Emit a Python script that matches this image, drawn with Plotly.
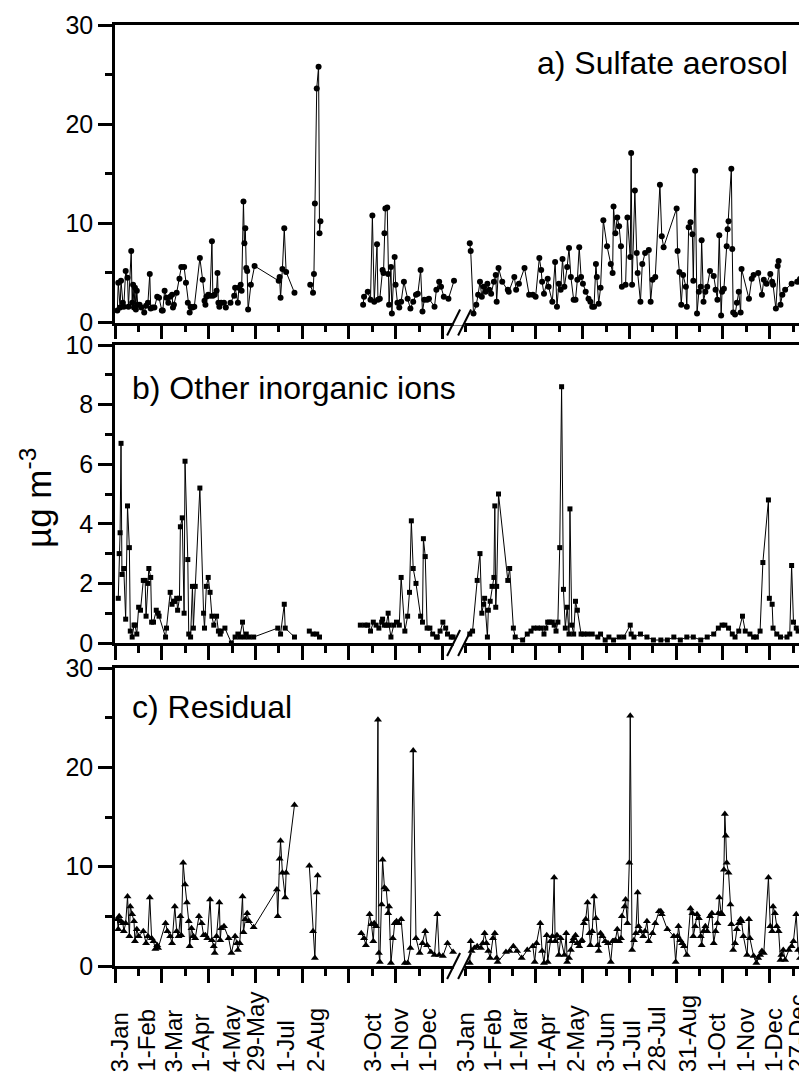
import plotly.graph_objects as go

# ---------------- data ----------------
# Day numbers count from 1 January of the first year (1 January of the second year = 366).
# None marks a gap in the record.
YEAR_LEN = 365

sulf_day = [1, 2, 4, 5, 7, 8, 10, 12, 13, 16,
            17, 18, 19, 20, 21, 22, 23, 25, 27, 30,
            32, 34, 36, 37, 39, 41, 44, 46, 49, 50,
            52, 54, 56, 58, 60, 61, 62, 65, 68, 70,
            73, 75, 77, 79, 80, 82, 84, 90, 93, 95,
            96, 97, 99, 101, 103, 104, 106, 108, 109, 110,
            111, 113, 116, 118, 123, 127, 128, 131, 132, 134,
            135, 137, 138, 139, 140, 141, 142, 145, 149, 175,
            176, 177, 179, 181, 183, 192, None,
            209, 212, 213, 214, 216, 218, 219, 220, None,
            266, 267, 271, 274, 276, 278, 281, 282, 284, 287,
            288, 289, 290, 292, 293, 294, 296, 297, 300, 301,
            303, 305, 307, 310, 314, 317, 320, 323, 325, 328,
            330, 332, 335, 337, 343, 345, 348, 350, 353, 358, 364, None,
            373, 374, 377, 380, 382, 384, 386, 388, 390, 392,
            394, 396, 399, 401, 402, 404, 408, 414, 415, 421,
            423, 426, 432, 437, 441, 444, 448, 450, 451, 453,
            457, 458, 462, 465, 467, 469, 471, 473, 475, 478,
            480, 482, 485, 487, 489, 491, 493, 495, 498, 501,
            503, 505, 507, 509, 510, 512, 514, 517, 521, 525,
            527, 528, 530, 532, 534, 536, 537, 541, 543, 546,
            547, 548, 551, 553, 554, 557, 559, 562, 566, 568,
            570, 573, 578, 580, 582, 596, 597, 599, 601, 603,
            606, 607, 609, 611, 613, 614, 616, 618, 620, 622,
            623, 625, 627, 629, 632, 636, 638, 640, 642, 644,
            645, 647, 650, 651, 652, 655, 656, 657, 659, 661,
            663, 665, 666, 674, 677, 679, 684, 688, 690, 693,
            697, 699, 700, 703, 705, 706, 708, 710, 713, 720,
            726, 729, 733, 736]
sulf_val = [1.2, 4.0, 1.5, 4.2, 2.0, 1.6, 5.2, 4.5, 1.6, 7.2,
            2.0, 3.8, 1.5, 3.5, 1.3, 3.2, 1.8, 1.8, 1.5, 1.0,
            1.7, 2.0, 4.9, 1.4, 1.5, 1.5, 2.6, 2.5, 1.2, 1.2,
            3.2, 2.5, 2.0, 2.6, 2.8, 1.5, 1.8, 3.0, 4.4, 5.6,
            5.6, 4.0, 2.0, 1.0, 1.6, 1.5, 1.6, 6.5, 4.3, 2.2,
            1.8, 2.6, 2.8, 2.7, 8.2, 2.7, 2.8, 3.2, 5.0, 2.0,
            1.6, 2.0, 2.0, 1.5, 2.0, 2.7, 3.5, 2.0, 3.5, 3.8,
            3.2, 12.2, 8.0, 9.5, 5.5, 5.2, 1.3, 3.8, 5.7, 4.2,
            4.6, 2.5, 5.4, 9.5, 5.1, 3.0, None,
            3.8, 3.0, 4.9, 12.0, 23.6, 25.8, 9.0, 10.2, None,
            1.8, 2.6, 3.1, 2.3, 10.8, 2.1, 7.9, 2.3, 2.4, 5.3,
            5.0, 9.0, 11.5, 11.6, 4.9, 1.8, 5.6, 0.9, 6.6, 3.8,
            2.0, 1.5, 2.1, 4.1, 2.4, 1.4, 2.1, 2.8, 2.9, 5.3,
            1.1, 2.3, 2.3, 2.4, 1.6, 3.3, 4.1, 3.6, 2.6, 2.4, 4.2, None,
            8.0, 7.2, 0.9, 1.8, 2.8, 4.1, 2.6, 3.6, 3.1, 3.9,
            3.3, 2.9, 4.1, 4.8, 2.1, 5.5, 4.1, 3.3, 3.1, 4.6,
            3.3, 3.9, 5.5, 2.8, 2.8, 2.6, 6.5, 5.3, 4.1, 2.9,
            4.4, 3.6, 2.1, 6.1, 1.6, 3.9, 3.3, 6.4, 3.6, 5.6,
            7.5, 4.6, 2.3, 2.3, 4.3, 7.6, 4.6, 3.9, 3.1, 2.4,
            2.1, 1.6, 1.6, 5.9, 4.6, 1.9, 3.5, 10.3, 7.7, 5.9,
            5.0, 11.7, 9.0, 10.6, 9.7, 7.7, 3.6, 3.8, 10.6, 6.6,
            17.1, 3.8, 13.3, 7.0, 5.0, 2.1, 5.9, 7.0, 7.3, 2.1,
            4.3, 4.6, 13.9, 8.7, 7.6, 11.5, 7.2, 5.1, 1.8, 4.8,
            3.6, 1.6, 9.6, 10.1, 8.9, 4.2, 15.3, 0.9, 3.1, 3.6,
            8.3, 2.1, 3.1, 3.6, 5.2, 4.7, 3.3, 2.3, 8.8, 0.7,
            3.1, 3.4, 7.7, 9.4, 10.2, 15.5, 7.4, 1.0, 0.8, 2.0,
            3.1, 1.0, 5.4, 2.4, 4.4, 4.8, 5.0, 2.8, 4.3, 3.9,
            4.9, 4.1, 3.8, 1.4, 5.7, 6.2, 1.8, 2.8, 3.3, 3.9,
            4.1, 4.4, 2.3, 3.0]

ions_day = [2, 3, 4, 5, 6, 8, 10, 12, 14, 15,
            17, 19, 20, 22, 24, 26, 29, 31, 32, 34,
            35, 37, 38, 40, 43, 45, 46, 53, 54, 58,
            60, 62, 63, 65, 66, 68, 69, 71, 73, 74,
            77, 78, 80, 82, 83, 85, 90, 94, 95, 97,
            99, 101, 103, 105, 108, 110, 112, 113, 117, 124,
            128, 131, 133, 136, 138, 140, 143, 148, 174, 177,
            181, 182, 192, None,
            208, 212, 216, 219, None,
            263, 268, 271, 274, 277, 280, 283, 286, 287, 289,
            291, 293, 294, 296, 299, 302, 305, 307, 311, 314,
            316, 318, 320, 323, 328, 330, 331, 333, 335, 338,
            341, 345, 346, 349, 352, 355, 357, 361, 363, None,
            373, 376, 381, 384, 386, 388, 389, 392, 393, 395,
            397, 399, 400, 401, 402, 404, 414, 416, 420, 422,
            430, 435, 439, 442, 446, 450, 453, 455, 457, 459,
            462, 464, 466, 468, 470, 472, 474, 476, 478, 480,
            481, 483, 485, 487, 489, 493, 496, 500, 505, 511,
            514, 519, 523, 528, 534, 539, 546, 547, 550, 557,
            564, 571, 579, 586, 593, 600, 607, 614, 622, 629,
            636, 641, 645, 648, 652, 656, 659, 663, 667, 670,
            675, 679, 682, 686, 689, 695, 696, 699, 700, 704,
            708, 715, 718, 720, 722, 725, 727, 731, 735]
ions_val = [1.5, 3.0, 3.7, 6.7, 2.3, 2.5, 0.8, 4.6, 3.2, 0.4,
            0.2, 0.6, 0.6, 0.3, 1.2, 1.1, 2.1, 2.1, 0.9, 2.0,
            2.5, 2.2, 0.7, 0.7, 1.1, 1.0, 0.9, 0.2, 0.5, 1.7,
            1.3, 1.4, 1.4, 1.5, 1.1, 1.5, 3.9, 4.2, 1.0, 6.1,
            2.8, 0.3, 0.2, 1.9, 0.5, 1.9, 5.2, 1.0, 0.5, 1.9,
            2.2, 1.7, 0.9, 0.6, 0.9, 0.4, 0.3, 0.4, 0.5, 0.0,
            0.2, 0.3, 0.2, 0.7, 0.2, 0.3, 0.2, 0.2, 0.5, 0.3,
            1.3, 0.5, 0.2, None,
            0.4, 0.3, 0.3, 0.2, None,
            0.6, 0.6, 0.6, 0.4, 0.7, 0.6, 0.5, 0.7, 0.8, 0.6,
            0.6, 1.0, 0.6, 0.2, 0.6, 0.7, 0.6, 2.2, 0.4, 0.9,
            1.7, 4.1, 2.5, 2.0, 0.9, 0.7, 3.5, 2.9, 0.5, 0.5,
            0.3, 0.2, 0.2, 0.4, 0.7, 0.5, 0.3, 0.2, 0.2, None,
            0.3, 0.4, 2.1, 3.0, 1.0, 1.3, 1.5, 0.2, 1.1, 1.4,
            1.9, 2.2, 4.6, 1.2, 1.9, 5.0, 2.1, 2.5, 0.5, 0.2,
            0.1, 0.3, 0.4, 0.5, 0.5, 0.5, 0.3, 0.5, 0.7, 0.7,
            0.7, 0.6, 0.4, 0.7, 3.2, 8.6, 1.8, 0.5, 1.2, 0.3,
            4.5, 0.6, 0.3, 1.4, 1.1, 0.3, 0.3, 0.3, 0.3, 0.2,
            0.3, 0.1, 0.2, 0.1, 0.2, 0.2, 0.6, 0.3, 0.2, 0.3,
            0.2, 0.1, 0.1, 0.1, 0.2, 0.1, 0.2, 0.2, 0.1, 0.2,
            0.3, 0.5, 0.6, 0.6, 0.5, 0.3, 0.2, 0.4, 0.9, 0.4,
            0.3, 0.2, 0.2, 0.4, 2.7, 4.8, 1.5, 1.3, 0.5, 0.3,
            0.2, 0.2, 0.3, 2.6, 0.7, 0.5, 0.4, 0.3, 0.3]

resid_day = [1, 2, 3, 5, 7, 8, 10, 12, 14, 15,
             17, 19, 20, 22, 24, 29, 32, 34, 36, 38,
             40, 42, 44, 45, 53, 55, 58, 60, 63, 65,
             67, 69, 70, 72, 74, 76, 78, 79, 81, 83,
             85, 89, 92, 94, 96, 98, 101, 103, 105, 106,
             108, 111, 112, 113, 116, 121, 124, 128, 130, 131,
             133, 136, 137, 139, 141, 143, 148, 173, 174, 176,
             177, 179, 182, 183, 192, None,
             208, 212, 214, 216, 217, None,
             264, 267, 269, 273, 275, 277, 278, 280, 282, 283,
             284, 286, 287, 289, 291, 293, 294, 296, 298, 300,
             302, 304, 307, 311, 314, 317, 320, 323, 327, 330,
             333, 335, 339, 343, 346, 348, 352, 357, 363, None,
             373, 374, 375, 378, 381, 385, 387, 389, 391, 393,
             395, 398, 400, 402, 403, 412, 416, 420, 424, 429,
             435, 441, 443, 445, 449, 451, 453, 456, 457, 460,
             462, 464, 465, 467, 469, 471, 475, 477, 478, 480,
             482, 484, 485, 487, 489, 491, 493, 494, 496, 498,
             500, 502, 503, 505, 507, 509, 511, 512, 514, 516,
             519, 522, 525, 527, 528, 530, 532, 534, 536, 537,
             540, 541, 543, 545, 546, 548, 550, 552, 554, 555,
             557, 560, 562, 564, 566, 570, 573, 577, 579, 580,
             586, 593, 595, 597, 598, 600, 602, 604, 607, 611,
             613, 614, 616, 618, 620, 622, 623, 625, 627, 629,
             632, 634, 636, 638, 640, 641, 642, 644, 645, 647,
             648, 649, 650, 652, 654, 655, 657, 659, 661, 663,
             665, 666, 668, 672, 674, 675, 679, 682, 684, 686,
             688, 690, 695, 697, 699, 700, 702, 704, 706, 708,
             709, 711, 713, 717, 720, 722, 725, 727, 729, 733,
             735]
resid_val = [4.7, 3.7, 5.0, 4.5, 4.3, 3.5, 4.3, 7.0, 3.0, 6.0,
             5.2, 4.5, 2.5, 3.7, 3.0, 3.5, 2.3, 3.0, 6.9, 2.8,
             2.5, 1.7, 2.1, 1.8, 4.3, 3.5, 3.0, 2.3, 6.0, 3.5,
             3.0, 5.0, 3.1, 10.4, 8.2, 6.4, 4.5, 2.0, 3.8, 3.0,
             2.8, 5.0, 4.3, 3.1, 3.1, 2.8, 6.7, 2.6, 2.0, 1.3,
             3.0, 6.4, 2.6, 3.8, 4.0, 2.8, 1.3, 3.0, 2.3, 1.6,
             2.3, 7.0, 3.4, 4.7, 5.3, 4.5, 3.9, 7.7, 5.0, 10.8,
             12.6, 9.4, 6.9, 9.4, 16.2, None,
             10.1, 3.5, 0.8, 7.4, 9.1, None,
             3.3, 2.8, 2.1, 5.2, 4.2, 2.5, 4.3, 4.0, 24.8, 1.3,
             0.4, 6.2, 10.7, 7.9, 7.7, 5.3, 6.0, 0.3, 2.8, 4.3,
             4.5, 4.3, 4.7, 0.3, 0.3, 1.8, 21.7, 2.8, 1.3, 2.3,
             3.5, 2.1, 1.4, 1.1, 5.2, 1.1, 1.0, 2.3, 1.4, None,
             0.3, 2.5, 1.5, 1.8, 2.0, 1.8, 2.3, 3.3, 2.3, 1.5,
             0.8, 2.8, 3.3, 0.8, 0.4, 1.4, 1.5, 2.0, 1.5, 0.8,
             1.6, 2.0, 0.4, 2.3, 4.3, 1.5, 0.3, 3.1, 0.4, 2.5,
             3.0, 8.9, 2.5, 3.1, 1.1, 2.8, 1.1, 3.3, 0.4, 0.8,
             1.6, 2.5, 2.8, 3.1, 2.3, 2.0, 2.5, 2.6, 4.3, 4.7,
             6.4, 3.3, 2.1, 3.5, 7.0, 4.8, 2.1, 1.5, 3.3, 3.0,
             2.5, 2.3, 0.4, 2.5, 2.5, 2.6, 3.7, 2.5, 2.8, 5.0,
             6.0, 6.7, 4.3, 10.4, 25.2, 1.6, 2.6, 3.3, 7.4, 4.0,
             3.5, 3.0, 3.5, 4.5, 2.5, 3.3, 4.3, 5.5, 5.5, 5.2,
             3.7, 3.0, 0.4, 3.0, 4.0, 2.6, 2.3, 2.0, 1.1, 5.8,
             5.3, 3.0, 4.0, 5.2, 4.8, 3.0, 2.1, 3.5, 4.0, 3.5,
             5.0, 5.3, 2.3, 3.5, 4.3, 5.3, 6.9, 5.3, 5.2, 9.7,
             15.3, 13.1, 10.4, 9.4, 6.2, 4.2, 1.6, 2.3, 3.7, 4.3,
             4.7, 4.5, 3.0, 1.1, 4.7, 2.8, 1.0, 0.3, 0.8, 1.1,
             1.5, 1.3, 8.9, 4.0, 3.5, 6.0, 5.3, 4.0, 3.5, 0.6,
             1.1, 1.6, 0.6, 1.6, 2.0, 2.5, 5.2, 1.6, 0.8, 0.6,
             1.0]

# date labels on the time axis (same day numbering)
label_day = [3, 32, 62, 91, 124, 149, 182, 214, 276, 305, 335,
             368, 397, 425, 456, 487, 519, 547, 574, 608, 639, 670, 700, 726]
label_text = ['3-Jan', '1-Feb', '3-Mar', '1-Apr', '4-May', '29-May', '1-Jul', '2-Aug',
              '3-Oct', '1-Nov', '1-Dec',
              '3-Jan', '1-Feb', '1-Mar', '1-Apr', '2-May', '3-Jun', '1-Jul', '28-Jul',
              '31-Aug', '1-Oct', '1-Nov', '1-Dec', '27-Dec']

panel_titles = ['a) Sulfate aerosol', 'b) Other inorganic ions', 'c) Residual']
y_ranges = [[0, 30], [0, 10], [0, 30]]
y_dticks = [10, 2, 10]
y_title = 'µg m<sup>-3</sup>'

# ---------------- layout constants ----------------
# The page places the figure 8 px from the top-left corner (default body margin),
# so the figure is 8 px smaller than the window and margins are measured accordingly.
OFF = 8
W, H = 807 - OFF, 1076 - OFF
PLOT_L, PLOT_R, PLOT_T, PLOT_B = 115, 806, 25, 966      # window pixels
ML, MT = PLOT_L - OFF, PLOT_T - OFF
MR, MB = W - (PLOT_R - OFF), H - (PLOT_B - OFF)
PW, PH = PLOT_R - PLOT_L, PLOT_B - PLOT_T
BREAK_GAP = 8            # extra axis space inserted at the axis break
XMIN, XMAX = -1.5, 743.5
TICK0, TICK_STEP = -1.3, 25.2
FONT = 'Liberation Sans, Arial, Helvetica, sans-serif'

# panel vertical positions (window pixels from top)
panel_px = [(25, 322.5), (345, 643), (668, 966)]
domains = [[(PLOT_B - b) / PH, (PLOT_B - t) / PH] for t, b in panel_px]
domains[0][1] = 1.0
domains[2][0] = 0.0


def plot_x(days):
    return [None if d is None else (d + BREAK_GAP if d > YEAR_LEN else d) for d in days]


fig = go.Figure()
series = [(sulf_day, sulf_val, 'circle', 6),
          (ions_day, ions_val, 'square', 5),
          (resid_day, resid_val, 'triangle-up', 7)]
for i, (d, v, sym, sz) in enumerate(series):
    sfx = '' if i == 0 else str(i + 1)
    fig.add_trace(go.Scatter(
        x=plot_x(d), y=v, mode='lines+markers', connectgaps=False,
        line=dict(color='black', width=1),
        marker=dict(symbol=sym, size=sz, color='black'),
        xaxis='x' + sfx, yaxis='y' + sfx, showlegend=False))

layout = dict(width=W, height=H, margin=dict(l=ML, r=MR, t=MT, b=MB, autoexpand=False),
              paper_bgcolor='white', plot_bgcolor='white',
              font=dict(family=FONT, color='black'))
for i in range(3):
    sfx = '' if i == 0 else str(i + 1)
    layout['xaxis' + sfx] = dict(
        domain=[0, 1], range=[XMIN, XMAX], anchor='y' + sfx,
        showline=True, linecolor='black', linewidth=2.5, mirror=True,
        ticks='outside', ticklen=14, tickwidth=2.5, tickcolor='black',
        tick0=TICK0, dtick=2 * TICK_STEP, showticklabels=False,
        showgrid=False, zeroline=False,
        minor=dict(ticks='outside', ticklen=7, tickwidth=2.5, tickcolor='black',
                   tick0=TICK0, dtick=TICK_STEP, showgrid=False))
    layout['yaxis' + sfx] = dict(
        domain=domains[i], range=y_ranges[i], anchor='x' + sfx,
        showline=True, linecolor='black', linewidth=2.5, mirror=True,
        ticks='outside', ticklen=14, tickwidth=2.5, tickcolor='black',
        dtick=y_dticks[i], tickfont=dict(family=FONT, size=25, color='black'),
        showgrid=False, zeroline=False,
        minor=dict(ticks='outside', ticklen=7, tickwidth=2.5, tickcolor='black',
                   dtick=y_dticks[i] / 2, showgrid=False))
fig.update_layout(**layout)

# panel titles
title_pos = [dict(x=0.977, xanchor='right', y=0.872),
             dict(x=0.022, xanchor='left', y=0.856),
             dict(x=0.022, xanchor='left', y=0.869)]
for i, t in enumerate(panel_titles):
    sfx = '' if i == 0 else str(i + 1)
    p = title_pos[i]
    fig.add_annotation(text=t, xref='x' + sfx + ' domain', yref='y' + sfx + ' domain',
                       x=p['x'], y=p['y'], xanchor=p['xanchor'], yanchor='middle',
                       showarrow=False, font=dict(family=FONT, size=32, color='black'))

# y title
fig.add_annotation(text=y_title, xref='paper', yref='paper', x=(36 - PLOT_L) / PW,
                   y=(PLOT_B - 498) / PH,
                   xanchor='center', yanchor='middle', textangle=-90, showarrow=False,
                   font=dict(family=FONT, size=35, color='black'))

# date labels (rotated, aligned at their start)
for d, t in zip(plot_x(label_day), label_text):
    fig.add_annotation(text=t, xref='x3', yref='paper', x=d, y=(PLOT_B - 1074) / PH,
                       xanchor='center', yanchor='bottom', textangle=-90, showarrow=False,
                       font=dict(family=FONT, size=24, color='black'))

# axis-break marks on each panel's time axis
brk = YEAR_LEN + 0.5 + BREAK_GAP / 2
xc = (brk - XMIN) / (XMAX - XMIN)
px_x, px_y = 1 / PW, 1 / PH
for i in range(3):
    y0 = domains[i][0]
    fig.add_shape(type='rect', xref='paper', yref='paper',
                  x0=xc - 5.5 * px_x, x1=xc + 5.5 * px_x, y0=y0 - 3 * px_y, y1=y0 + 3 * px_y,
                  fillcolor='white', line=dict(width=0), layer='above')
    for off in (-5.5, 5.5):
        fig.add_shape(type='line', xref='paper', yref='paper',
                      x0=xc + (off - 6.5) * px_x, y0=y0 - 13 * px_y,
                      x1=xc + (off + 6.5) * px_x, y1=y0 + 13 * px_y,
                      line=dict(color='black', width=2), layer='above')

fig.write_html('out.html')
